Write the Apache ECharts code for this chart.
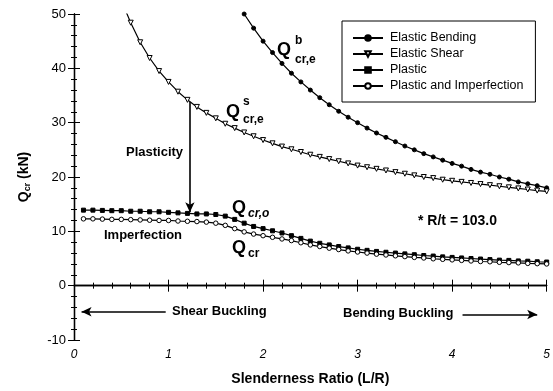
<!DOCTYPE html>
<html>
<head>
<meta charset="utf-8">
<script src="https://cdn.jsdelivr.net/npm/echarts@6/dist/echarts.min.js"></script>
<style>
  html, body { margin: 0; padding: 0; background: #fff; }
  #chart { width: 553px; height: 391px; }
</style>
</head>
<body>
<div id="chart"></div>
<script>
// Slenderness ratio L/R for each curve
const lrBend = [1.8,1.9,2.0,2.1,2.2,2.3,2.4,2.5,2.6,2.7,2.8,2.9,3.0,3.1,3.2,3.3,3.4,3.5,3.6,3.7,3.8,3.9,4.0,4.1,4.2,4.3,4.4,4.5,4.6,4.7,4.8,4.9,5.0];
const lrShear = [0.5,0.6,0.7,0.8,0.9,1.0,1.1,1.2,1.3,1.4,1.5,1.6,1.7,1.8,1.9,2.0,2.1,2.2,2.3,2.4,2.5,2.6,2.7,2.8,2.9,3.0,3.1,3.2,3.3,3.4,3.5,3.6,3.7,3.8,3.9,4.0,4.1,4.2,4.3,4.4,4.5,4.6,4.7,4.8,4.9,5.0];
const lrPlastic = [0.1,0.2,0.3,0.4,0.5,0.6,0.7,0.8,0.9,1.0,1.1,1.2,1.3,1.4,1.5,1.6,1.7,1.8,1.9,2.0,2.1,2.2,2.3,2.4,2.5,2.6,2.7,2.8,2.9,3.0,3.1,3.2,3.3,3.4,3.5,3.6,3.7,3.8,3.9,4.0,4.1,4.2,4.3,4.4,4.5,4.6,4.7,4.8,4.9,5.0];

// Critical load Q_cr (kN)
const elasticBending = [50.0,47.4,45.0,42.9,40.9,39.1,37.5,36.0,34.6,33.3,32.1,31.0,30.0,29.0,28.1,27.3,26.5,25.7,25.0,24.3,23.7,23.1,22.5,22.0,21.4,20.9,20.5,20.0,19.6,19.1,18.75,18.4,18.0];
const elasticShear = [52.5,48.4,44.8,41.9,39.5,37.5,35.7,34.2,32.9,31.8,30.8,29.8,29.0,28.2,27.5,26.8,26.2,25.6,25.1,24.6,24.1,23.7,23.3,22.9,22.5,22.1,21.8,21.5,21.2,20.9,20.6,20.3,20.0,19.8,19.5,19.3,19.1,18.9,18.7,18.5,18.3,18.1,17.9,17.7,17.5,17.35];
const plastic = [13.9,13.9,13.85,13.8,13.8,13.7,13.7,13.6,13.6,13.5,13.4,13.3,13.2,13.2,13.1,12.8,12.2,11.5,10.9,10.5,10.1,9.7,9.2,8.7,8.2,7.8,7.5,7.2,6.95,6.7,6.5,6.3,6.15,6.0,5.85,5.7,5.55,5.45,5.3,5.2,5.1,5.0,4.9,4.8,4.7,4.65,4.55,4.5,4.4,4.35];
const plasticImperfect = [12.3,12.3,12.25,12.2,12.2,12.15,12.1,12.05,12.0,12.0,11.9,11.85,11.8,11.7,11.5,11.1,10.5,9.9,9.5,9.2,8.9,8.6,8.3,7.9,7.5,7.2,6.9,6.65,6.4,6.2,6.0,5.8,5.65,5.5,5.35,5.2,5.1,4.95,4.85,4.75,4.65,4.55,4.45,4.4,4.3,4.25,4.2,4.1,4.05,4.0];

const seriesNames = ['Elastic Bending', 'Elastic Shear', 'Plastic', 'Plastic and Imperfection'];
const xTicks = { min: 0, max: 5, interval: 1 };
const yTicks = { min: -10, max: 50, interval: 10 };

const FONT = '"Liberation Sans", Arial, Helvetica, sans-serif';
const pairs = (xs, ys) => xs.map((x, i) => [x, ys[i]]);

const chart = echarts.init(document.getElementById('chart'), null, { renderer: 'canvas' });

const axisCommon = {
  type: 'value',
  axisLine: { show: true, lineStyle: { color: '#000', width: 1.3 } },
  axisTick: { show: true, inside: true, length: 6, lineStyle: { color: '#000', width: 1 } },
  minorTick: { show: true, splitNumber: 5, length: 3, lineStyle: { color: '#000', width: 1 } },
  splitLine: { show: false },
  minorSplitLine: { show: false }
};

const lineSeries = (name, data, symbol, size, fill, extra) => Object.assign({
  name: name,
  type: 'line',
  data: data,
  symbol: symbol,
  symbolSize: size,
  showAllSymbol: true,
  clip: true,
  lineStyle: { color: '#000', width: 1.2 },
  itemStyle: { color: fill, borderColor: '#000', borderWidth: 1 },
  emphasis: { disabled: true },
  animation: false,
  z: 3
}, extra || {});

const arrowLine = { color: '#000', width: 1.6, type: 'solid' };

chart.setOption({
  backgroundColor: '#fff',
  animation: false,
  grid: { left: 74, right: 6, top: 14, bottom: 50 },
  xAxis: [
    Object.assign({}, axisCommon, {
      min: xTicks.min, max: xTicks.max, interval: xTicks.interval,
      position: 'bottom',
      axisLabel: { color: '#000', fontSize: 12, fontStyle: 'italic', fontFamily: FONT, margin: 9 },
      name: 'Slenderness Ratio (L/R)',
      nameLocation: 'middle',
      nameGap: 32,
      nameTextStyle: { color: '#000', fontSize: 14, fontWeight: 'bold', fontFamily: FONT }
    }),
    Object.assign({}, axisCommon, {
      min: xTicks.min, max: xTicks.max, interval: xTicks.interval,
      position: 'top',
      axisLabel: { show: false }
    })
  ],
  yAxis: [
    Object.assign({}, axisCommon, {
      min: yTicks.min, max: yTicks.max, interval: yTicks.interval,
      position: 'left',
      axisLabel: { color: '#000', fontSize: 13, fontFamily: FONT, margin: 8 },
      name: '{q|Q}{s|cr}{q| (kN)}',
      nameLocation: 'middle',
      nameGap: 42,
      nameRotate: 90,
      nameTextStyle: {
        color: '#000', fontFamily: FONT,
        rich: {
          q: { fontSize: 14, fontWeight: 'bold', fontFamily: FONT, color: '#000' },
          s: { fontSize: 9, fontWeight: 'bold', fontFamily: FONT, color: '#000', verticalAlign: 'bottom', padding: [6, 0, 0, 0] }
        }
      }
    }),
    Object.assign({}, axisCommon, {
      min: yTicks.min, max: yTicks.max, interval: yTicks.interval,
      position: 'right',
      axisLabel: { show: false }
    })
  ],
  legend: {
    data: seriesNames,
    orient: 'vertical',
    left: 342,
    top: 21,
    padding: [10, 12, 9, 10],
    itemGap: 2,
    itemWidth: 30,
    itemHeight: 7,
    borderColor: '#000',
    borderWidth: 1,
    backgroundColor: '#fff',
    selectedMode: false,
    textStyle: { color: '#000', fontSize: 12.5, fontFamily: FONT, lineHeight: 14, padding: [0, 0, 0, 2] }
  },
  series: [
    lineSeries(seriesNames[0], pairs(lrBend, elasticBending), 'circle', 4, '#000'),
    lineSeries(seriesNames[1], pairs(lrShear, elasticShear), 'triangle', 5, '#fff', { symbolRotate: 180 }),
    lineSeries(seriesNames[2], pairs(lrPlastic, plastic), 'rect', 4, '#000', {
      markLine: {
        silent: true,
        animation: false,
        label: { show: false },
        lineStyle: arrowLine,
        symbol: ['none', 'arrow'],
        symbolSize: [7, 10],
        data: [
          [{ coord: [1.226, 33.8] }, { coord: [1.226, 13.5] }],
          [{ coord: [0.97, -4.8] }, { coord: [0.08, -4.8] }],
          [{ coord: [4.11, -5.3] }, { coord: [4.9, -5.3] }]
        ]
      }
    }),
    lineSeries(seriesNames[3], pairs(lrPlastic, plasticImperfect), 'circle', 4.5, '#fff')
  ],
  graphic: [
    { type: 'text', left: 126, top: 146, style: { text: 'Plasticity', font: 'bold 13px ' + FONT, fill: '#000' } },
    { type: 'text', left: 104, top: 229, style: { text: 'Imperfection', font: 'bold 13px ' + FONT, fill: '#000' } },
    { type: 'text', left: 277, top: 41, style: { text: 'Q', font: 'bold 18px ' + FONT, fill: '#000' } },
    { type: 'text', left: 295, top: 35, style: { text: 'b', font: 'bold 12px ' + FONT, fill: '#000' } },
    { type: 'text', left: 295, top: 54, style: { text: 'cr,e', font: 'bold 12px ' + FONT, fill: '#000' } },
    { type: 'text', left: 226, top: 103, style: { text: 'Q', font: 'bold 18px ' + FONT, fill: '#000' } },
    { type: 'text', left: 243, top: 96, style: { text: 's', font: 'bold 12px ' + FONT, fill: '#000' } },
    { type: 'text', left: 243, top: 114, style: { text: 'cr,e', font: 'bold 12px ' + FONT, fill: '#000' } },
    { type: 'text', left: 232, top: 199, style: { text: 'Q', font: 'bold 18px ' + FONT, fill: '#000' } },
    { type: 'text', left: 248, top: 208, style: { text: 'cr,o', font: 'italic bold 12px ' + FONT, fill: '#000' } },
    { type: 'text', left: 232, top: 239, style: { text: 'Q', font: 'bold 18px ' + FONT, fill: '#000' } },
    { type: 'text', left: 248, top: 248, style: { text: 'cr', font: 'bold 12px ' + FONT, fill: '#000' } },
    { type: 'text', left: 418, top: 214, style: { text: '* R/t = 103.0', font: 'bold 14px ' + FONT, fill: '#000' } },
    { type: 'text', left: 172, top: 305, style: { text: 'Shear Buckling', font: 'bold 13px ' + FONT, fill: '#000' } },
    { type: 'text', left: 343, top: 307, style: { text: 'Bending Buckling', font: 'bold 13px ' + FONT, fill: '#000' } }
  ]
});
</script>
</body>
</html>
